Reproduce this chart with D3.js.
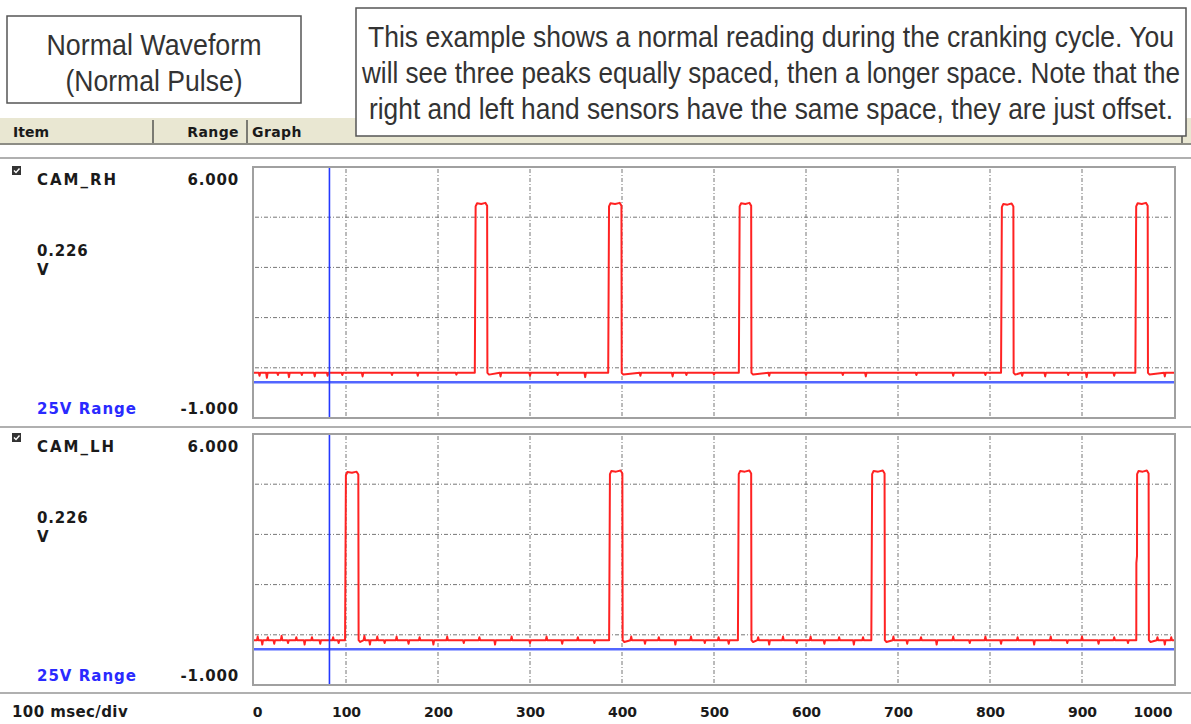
<!DOCTYPE html>
<html>
<head>
<meta charset="utf-8">
<script src="https://cdnjs.cloudflare.com/ajax/libs/d3/7.8.5/d3.min.js"></script>
<style>
  body { margin: 0; background: #fff; }
  svg { display: block; }
  .ui { font-family: "DejaVu Sans", sans-serif; font-weight: bold; fill: #1a1a1a; }
  .note { font-family: "Liberation Sans Narrow", "Liberation Sans", sans-serif; fill: #333; }
</style>
</head>
<body>
<div id="canvas"></div>
<script>
  // tick labels of the time axis (msec)
  var xTicks = [0, 100, 200, 300, 400, 500, 600, 700, 800, 900, 1000];
  // scope range per channel (V) and the horizontal divisions
  var yRange = [-1, 6];
  var yDivs = [0.4, 1.8, 3.2, 4.6];
  var cursorMs = 82;

  // CAM_RH pulses: rise / fall time (msec), top voltage
  var rhPulses = [[240, 254, 4.95], [385, 400, 4.95], [527, 541, 4.95], [812, 826, 4.93], [958, 972, 4.95]];
  // CAM_LH pulses
  var lhPulses = [[99, 114, 4.9], [386, 401, 4.93], [526, 541, 4.93], [671, 686, 4.93], [959, 973, 4.93]];
  var rhBase = 0.26, lhBase = 0.25;
  // little glitches on the baseline: [msec, offset V]
  var rhGlitch = [[6, -0.08], [14, -0.14], [26, -0.06], [38, -0.12], [52, -0.06], [66, -0.1], [80, -0.08], [96, -0.06],
    [118, -0.1], [150, -0.06], [178, -0.08], [220, -0.05], [268, -0.1], [300, -0.08], [330, -0.06], [360, -0.12],
    [420, -0.08], [455, -0.1], [470, -0.06], [500, -0.05], [560, -0.08], [600, -0.06], [640, -0.06], [665, -0.1],
    [720, -0.06], [760, -0.08], [795, -0.06], [835, -0.08], [860, -0.1], [885, -0.06], [905, -0.12], [935, -0.08], [990, -0.1]];
  var lhGlitch = [[4, 0.1], [9, -0.12], [15, 0.08], [22, -0.1], [30, 0.12], [37, -0.08], [46, 0.08], [55, -0.12], [63, 0.08],
    [72, -0.1], [86, 0.08], [92, -0.08], [120, 0.12], [126, -0.12], [134, 0.1], [142, -0.08], [155, 0.1], [168, -0.1],
    [180, 0.08], [195, -0.12], [210, 0.1], [228, -0.08], [245, 0.08], [262, -0.12], [280, 0.1], [300, -0.08], [318, 0.1],
    [335, -0.1], [352, 0.08], [370, -0.08], [410, 0.1], [425, -0.1], [440, 0.08], [458, -0.12], [475, 0.1], [490, -0.08],
    [505, 0.08], [516, -0.1], [548, 0.08], [560, -0.12], [575, 0.1], [590, -0.08], [605, 0.1], [620, -0.1], [636, 0.08],
    [652, -0.12], [662, 0.08], [695, 0.1], [710, -0.1], [725, 0.08], [742, -0.12], [760, 0.1], [778, -0.08], [795, 0.1],
    [812, -0.1], [830, 0.08], [848, -0.12], [866, 0.1], [884, -0.08], [900, 0.1], [918, -0.1], [935, 0.08], [950, -0.08],
    [982, 0.08], [990, -0.12], [997, 0.08]];
  // the last LH edge steps part way up: [msec, V]
  var lhKink = [959, 2.4];

  var W = 1191, H = 724;
  var fmt = function(v) { return d3.format(".3f")(v).replace("\u2212", "-"); };
  var svg = d3.select("#canvas").append("svg")
    .attr("width", W).attr("height", H);
  svg.append("rect").attr("width", W).attr("height", H).attr("fill", "#fff");

  var x = d3.scaleLinear().domain([0, 1000]).range([254, 1174]);

  // header bar
  svg.append("rect").attr("x", 0).attr("y", 118).attr("width", W).attr("height", 26).attr("fill", "#e9e7d2");
  svg.append("line").attr("x1", 0).attr("x2", W).attr("y1", 144).attr("y2", 144).attr("stroke", "#8d8d85").attr("stroke-width", 2);
  [153, 247, 1182].forEach(function(sx) {
    svg.append("line").attr("x1", sx).attr("x2", sx).attr("y1", 120).attr("y2", 143).attr("stroke", "#7a7a72").attr("stroke-width", 2);
  });
  svg.append("text").attr("class", "ui").attr("x", 13).attr("y", 137).style("font-size", "14px").text("Item");
  svg.append("text").attr("class", "ui").attr("x", 239).attr("y", 137).attr("text-anchor", "end").style("font-size", "14px").style("letter-spacing", "0.4px").text("Range");
  svg.append("text").attr("class", "ui").attr("x", 252).attr("y", 137).style("font-size", "14px").style("letter-spacing", "0.4px").text("Graph");

  [158, 427, 693].forEach(function(sy) {
    svg.append("line").attr("x1", 0).attr("x2", W).attr("y1", sy).attr("y2", sy).attr("stroke", "#b0b0b0").attr("stroke-width", 2);
  });

  // title box
  svg.append("rect").attr("x", 7).attr("y", 16).attr("width", 294).attr("height", 87)
    .attr("fill", "#fff").attr("stroke", "#555").attr("stroke-width", 1.5);
  svg.append("text").attr("class", "note").attr("transform", "translate(154,55) scale(1,1.25)").attr("text-anchor", "middle")
    .style("font-size", "24px").attr("textLength", 215).attr("lengthAdjust", "spacingAndGlyphs").text("Normal Waveform");
  svg.append("text").attr("class", "note").attr("transform", "translate(154,91) scale(1,1.25)").attr("text-anchor", "middle")
    .style("font-size", "24px").attr("textLength", 177).attr("lengthAdjust", "spacingAndGlyphs").text("(Normal Pulse)");

  // description box
  var noteLines = [
    ["This example shows a normal reading during the cranking cycle. You", 806],
    ["will see three peaks equally spaced, then a longer space. Note that the", 818],
    ["right and left hand sensors have the same space, they are just offset.", 804]
  ];
  svg.append("rect").attr("x", 356).attr("y", 8).attr("width", 830).attr("height", 128)
    .attr("fill", "#fff").attr("stroke", "#555").attr("stroke-width", 1.5);
  noteLines.forEach(function(l, i) {
    svg.append("text").attr("class", "note")
      .attr("transform", "translate(771," + (47 + i * 36) + ") scale(1,1.25)").attr("text-anchor", "middle")
      .style("font-size", "23px").attr("textLength", l[1]).attr("lengthAdjust", "spacingAndGlyphs").text(l[0]);
  });

  function tracePoints(base, pulses, glitches, kink) {
    var pts = [[0, base], [1000, base]];
    glitches.forEach(function(g) {
      var inside = pulses.some(function(p) { return g[0] > p[0] - 3 && g[0] < p[1] + 3; });
      if (inside) return;
      pts.push([g[0] - 0.8, base], [g[0], base + g[1]], [g[0] + 0.8, base]);
    });
    pulses.forEach(function(p) {
      var on = p[0], off = p[1], top = p[2];
      pts.push([on, base]);
      if (kink && kink[0] === on) {
        pts.push([on + 0.1, kink[1]], [on + 0.8, kink[1] + 0.2]);
      }
      pts.push([on + 0.9, top - 0.05], [on + 2.5, top + 0.04], [(on + off) / 2, top + 0.02],
        [off - 2.5, top + 0.05], [off - 0.6, top - 0.03], [off - 0.3, base], [off + 1.5, base - 0.05]);
    });
    pts.sort(function(a, b) { return a[0] - b[0]; });
    return pts;
  }

  var panels = [
    { name: "CAM_RH", top: 167, base: rhBase, pulses: rhPulses, glitch: rhGlitch, kink: null },
    { name: "CAM_LH", top: 434, base: lhBase, pulses: lhPulses, glitch: lhGlitch, kink: lhKink }
  ];

  panels.forEach(function(p) {
    var y = d3.scaleLinear().domain(yRange).range([p.top + 251, p.top]);
    var g = svg.append("g");

    g.append("rect").attr("x", 253).attr("y", p.top).attr("width", 922).attr("height", 251)
      .attr("fill", "#fff").attr("stroke", "#a0a0a0").attr("stroke-width", 2);

    // grid
    g.selectAll(".vgrid").data(xTicks.slice(1, -1)).enter().append("line")
      .attr("x1", function(d) { return x(d); }).attr("x2", function(d) { return x(d); })
      .attr("y1", p.top + 2).attr("y2", p.top + 249)
      .attr("stroke", "#777").attr("stroke-width", 1).attr("stroke-dasharray", "4,2,1,2");
    g.selectAll(".hgrid").data(yDivs).enter().append("line")
      .attr("x1", 255).attr("x2", 1173)
      .attr("y1", function(d) { return y(d); }).attr("y2", function(d) { return y(d); })
      .attr("stroke", "#777").attr("stroke-width", 1).attr("stroke-dasharray", "4,2,1,2");

    // zero reference
    g.append("line").attr("x1", 254).attr("x2", 1174).attr("y1", y(0)).attr("y2", y(0))
      .attr("stroke", "#5266ff").attr("stroke-width", 2.5);

    // trace
    var line = d3.line().x(function(d) { return x(d[0]); }).y(function(d) { return y(d[1]); });
    g.append("path").datum(tracePoints(p.base, p.pulses, p.glitch, p.kink))
      .attr("d", line).attr("fill", "none").attr("stroke", "#ff2222").attr("stroke-width", 2)
      .attr("stroke-linejoin", "round");

    // cursor
    g.append("line").attr("x1", x(cursorMs)).attr("x2", x(cursorMs)).attr("y1", p.top + 1).attr("y2", p.top + 250)
      .attr("stroke", "#2438ff").attr("stroke-width", 1.6);

    // left column labels
    g.append("rect").attr("x", 12).attr("y", p.top - 1).attr("width", 9).attr("height", 9).attr("fill", "#333");
    g.append("path").attr("d", "M" + 14 + "," + (p.top + 3.5) + "l2,2l3.5,-4")
      .attr("fill", "none").attr("stroke", "#fff").attr("stroke-width", 1.4);
    g.append("text").attr("class", "ui").attr("x", 37).attr("y", p.top + 18).style("font-size", "15px")
      .style("letter-spacing", "2px").text(p.name);
    g.append("text").attr("class", "ui").attr("x", 239).attr("y", p.top + 18).attr("text-anchor", "end")
      .style("font-size", "15px").style("letter-spacing", "0.8px").text(fmt(yRange[1]));
    g.append("text").attr("class", "ui").attr("x", 37).attr("y", p.top + 89).style("font-size", "15px")
      .style("letter-spacing", "0.8px").text(fmt(0.226));
    g.append("text").attr("class", "ui").attr("x", 37).attr("y", p.top + 108).style("font-size", "15px").text("V");
    g.append("text").attr("class", "ui").attr("x", 37).attr("y", p.top + 247).style("font-size", "15px")
      .style("letter-spacing", "1px").style("fill", "#2a2aff").text("25V Range");
    g.append("text").attr("class", "ui").attr("x", 239).attr("y", p.top + 247).attr("text-anchor", "end")
      .style("font-size", "15px").style("letter-spacing", "0.8px").text(fmt(yRange[0]));
  });

  // time axis
  var axis = svg.append("g").attr("transform", "translate(0,702)")
    .call(d3.axisBottom(x).tickValues(xTicks).tickSize(0).tickPadding(0).tickFormat(d3.format("d")));
  axis.select(".domain").remove();
  axis.selectAll("text").attr("class", "ui").attr("dy", "15px").style("font-size", "14px").style("fill", "#1a1a1a");
  axis.selectAll(".tick").filter(function(d) { return d === 0; }).select("text").attr("dx", 3);
  axis.selectAll(".tick").filter(function(d) { return d === 1000; }).select("text").attr("text-anchor", "end").attr("dx", -2);

  svg.append("text").attr("class", "ui").attr("x", 12).attr("y", 717).style("font-size", "15px")
    .style("letter-spacing", "0.4px").text("100 msec/div");
</script>
</body>
</html>
